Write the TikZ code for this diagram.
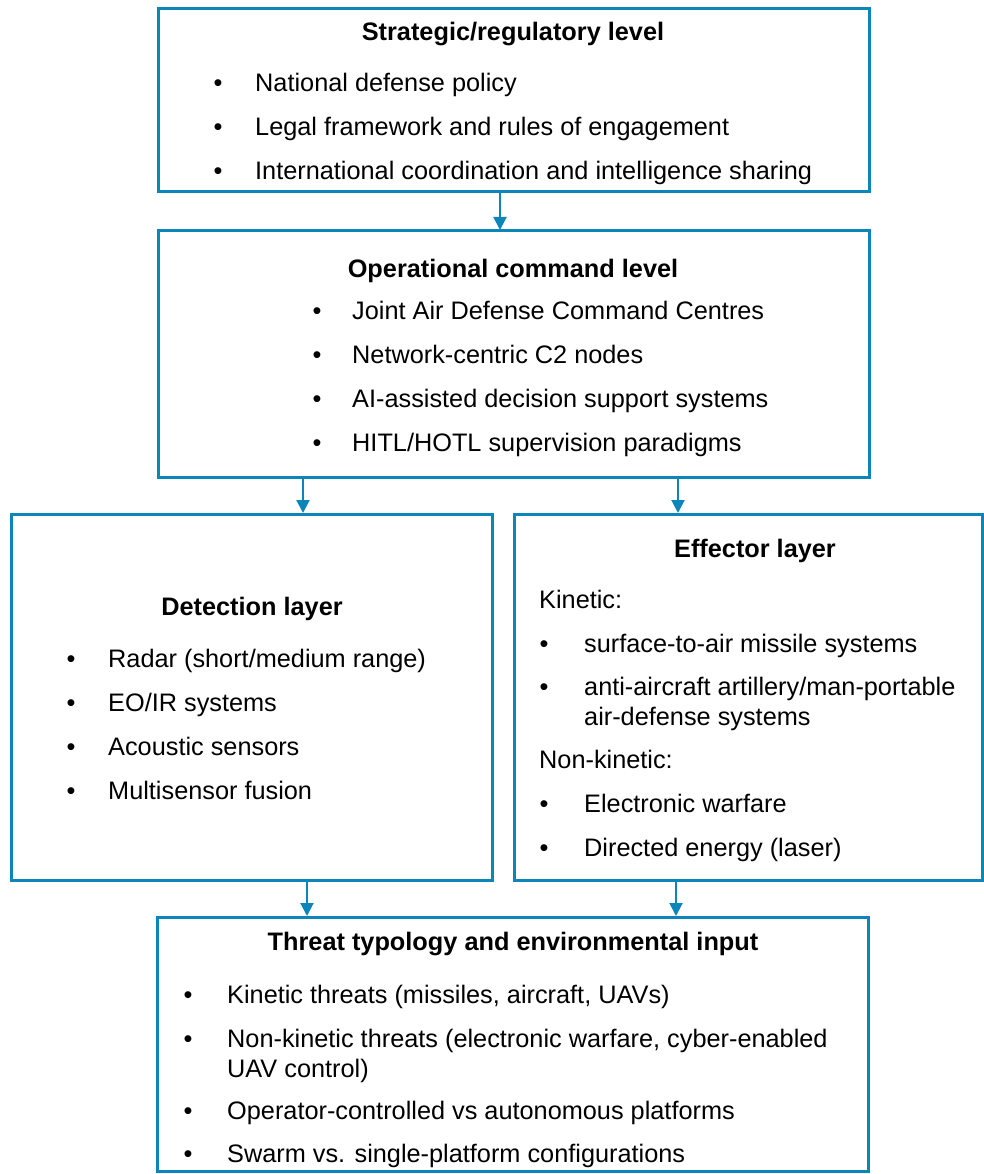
\documentclass[tikz,border=0pt]{standalone}
\usepackage{fontspec}
\setmainfont{Liberation Sans}
\usetikzlibrary{arrows.meta}
\definecolor{cblue}{RGB}{12,134,186}
\begin{document}
\begin{tikzpicture}[x=1pt,y=1pt,
 box/.style={draw=cblue, line width=3pt, rectangle, anchor=north west, inner sep=0pt, outer sep=0pt},
 arr/.style={draw=cblue, line width=2pt, -{Triangle[width=13pt,length=13pt]}, shorten >=1pt},
 txt/.style={anchor=base west, inner sep=0pt, font=\fontsize{25.3}{30}\selectfont},
 ttl/.style={anchor=base, inner sep=0pt, font=\fontsize{25.3}{30}\selectfont\bfseries},
 bul/.style={anchor=base, inner sep=0pt, font=\fontsize{25.3}{30}\selectfont}]
\useasboundingbox (0,0) rectangle (984,-1174);

% boxes
\node[box, minimum width=711, minimum height=183] (b1) at (158,-9) {};
\node[box, minimum width=711, minimum height=246] (b2) at (158,-231) {};
\node[box, minimum width=481, minimum height=366] (det) at (11,-514) {};
\node[box, minimum width=468.5, minimum height=366] (eff) at (514,-514) {};
\node[box, minimum width=711, minimum height=254.5] (thr) at (157,-917) {};

% arrows
\coordinate (c1) at (500,0);
\coordinate (c2) at (303,0);
\coordinate (c3) at (678,0);
\coordinate (c4) at (307,0);
\coordinate (c5) at (676,0);
\draw[arr] (c1 |- b1.south) -- (c1 |- b2.north);
\draw[arr] (c2 |- b2.south) -- (c2 |- det.north);
\draw[arr] (c3 |- b2.south) -- (c3 |- eff.north);
\draw[arr] (c4 |- det.south) -- (c4 |- thr.north);
\draw[arr] (c5 |- eff.south) -- (c5 |- thr.north);

% box 1
\node[ttl] (b1t) at (513,-41) {Strategic/regulatory level};
\node[bul] (b1b1) at (218,-92) {•};
\node[txt] (b1x1) at (255,-92) {National defense policy};
\node[bul] (b1b2) at (218,-136) {•};
\node[txt] (b1x2) at (255,-136) {Legal framework and rules of engagement};
\node[bul] (b1b3) at (218,-180) {•};
\node[txt] (b1x3) at (255,-180) {International coordination and intelligence sharing};

% box 2
\node[ttl] (b2t) at (513,-277) {Operational command level};
\node[bul] (b2b1) at (317,-319) {•};
\node[txt] (b2x1) at (352,-319) {Joint Air Defense Command Centres};
\node[bul] (b2b2) at (317,-363) {•};
\node[txt] (b2x2) at (352,-363) {Network-centric C2 nodes};
\node[bul] (b2b3) at (317,-407) {•};
\node[txt] (b2x3) at (352,-407) {AI-assisted decision support systems};
\node[bul] (b2b4) at (317,-451) {•};
\node[txt] (b2x4) at (352,-451) {HITL/HOTL supervision paradigms};

% detection
\node[ttl] (dett) at (252,-615) {Detection layer};
\node[bul] (detb1) at (71,-667) {•};
\node[txt] (detx1) at (108,-667) {Radar (short/medium range)};
\node[bul] (detb2) at (71,-711) {•};
\node[txt] (detx2) at (108,-711) {EO/IR systems};
\node[bul] (detb3) at (71,-755) {•};
\node[txt] (detx3) at (108,-755) {Acoustic sensors};
\node[bul] (detb4) at (71,-799) {•};
\node[txt] (detx4) at (108,-799) {Multisensor fusion};

% effector
\node[ttl] (efft) at (755,-557) {Effector layer};
\node[txt] (effk) at (539,-608) {Kinetic:};
\node[bul] (effb1) at (544,-652) {•};
\node[txt] (effx1) at (584,-652) {surface-to-air missile systems};
\node[bul] (effb2) at (544,-695) {•};
\node[txt] (effx2) at (584,-695) {anti-aircraft artillery/man-portable};
\node[txt] (effx2b) at (584,-725) {air-defense systems};
\node[txt] (effn) at (539,-768) {Non-kinetic:};
\node[bul] (effb3) at (544,-812) {•};
\node[txt] (effx3) at (584,-812) {Electronic warfare};
\node[bul] (effb4) at (544,-856) {•};
\node[txt] (effx4) at (584,-856) {Directed energy (laser)};

% threat
\node[ttl] (thrt) at (513,-950) {Threat typology and environmental input};
\node[bul] (thrb1) at (188,-1003) {•};
\node[txt] (thrx1) at (227,-1003) {Kinetic threats (missiles, aircraft, UAVs)};
\node[bul] (thrb2) at (188,-1047) {•};
\node[txt] (thrx2) at (227,-1047) {Non-kinetic threats (electronic warfare, cyber-enabled};
\node[txt] (thrx2b) at (227,-1077) {UAV control)};
\node[bul] (thrb3) at (188,-1119) {•};
\node[txt] (thrx3) at (227,-1119) {Operator-controlled vs autonomous platforms};
\node[bul] (thrb4) at (188,-1162) {•};
\node[txt] (thrx4) at (227,-1162) {Swarm vs. single-platform configurations};
\end{tikzpicture}
\end{document}
